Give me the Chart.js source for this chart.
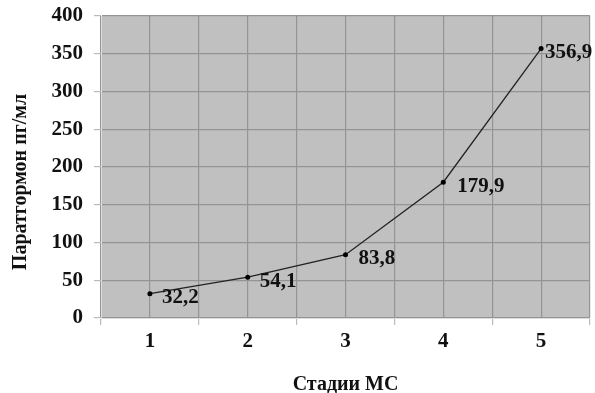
<!DOCTYPE html>
<html>
<head>
<meta charset="utf-8">
<script src="https://cdn.jsdelivr.net/npm/chart.js@4/dist/chart.umd.min.js"></script>
<style>
  html, body { margin: 0; padding: 0; background: #fff; }
  #wrap { width: 595px; height: 393px; }
</style>
</head>
<body>
<div id="wrap"><canvas id="chart" width="595" height="393"></canvas></div>
<script>
// Stages of MS and parathormone level
const stages = [1, 2, 3, 4, 5];
const values = [32.2, 54.1, 83.8, 179.9, 356.9];
const yTicks = [0, 50, 100, 150, 200, 250, 300, 350, 400];
const yTitle = 'Паратгормон пг/мл';
const xTitle = 'Стадии МС';

// label offset to the right of each point (px)
const labelDx = [12, 12, 13, 14, 4];

const serif = "'Liberation Serif', 'Times New Roman', serif";

// plot area background
const plotBg = {
    id: 'plotBg',
    beforeDraw(chart) {
        const { ctx, chartArea: a } = chart;
        ctx.save();
        ctx.fillStyle = '#c0c0c0';
        ctx.fillRect(a.left, a.top, a.right - a.left, a.bottom - a.top);
        ctx.restore();
    }
};

// value labels (comma decimal) + y title slightly below centre like the source
const valueLabels = {
    id: 'valueLabels',
    afterDatasetsDraw(chart) {
        const { ctx, chartArea: a } = chart;
        const meta = chart.getDatasetMeta(0);
        ctx.save();
        ctx.font = 'bold 21px ' + serif;
        ctx.fillStyle = '#111';
        ctx.textAlign = 'left';
        ctx.textBaseline = 'middle';
        meta.data.forEach((pt, i) => {
            const txt = values[i].toFixed(1).replace('.', ',');
            ctx.fillText(txt, pt.x + labelDx[i], pt.y + 4);
        });

        ctx.translate(21, (a.top + a.bottom) / 2 + 15);
        ctx.rotate(-Math.PI / 2);
        ctx.textAlign = 'center';
        ctx.font = 'bold 20px ' + serif;
        ctx.fillText(yTitle, 0, 0);
        ctx.restore();
    }
};

new Chart(document.getElementById('chart'), {
    type: 'line',
    data: {
        datasets: [{
            data: stages.map((s, i) => ({ x: s, y: values[i] })),
            borderColor: '#222',
            borderWidth: 1.3,
            pointRadius: 2.5,
            pointBackgroundColor: '#000',
            pointBorderColor: '#000',
            pointBorderWidth: 0,
            tension: 0,
            fill: false
        }]
    },
    options: {
        responsive: false,
        animation: false,
        devicePixelRatio: 1,
        layout: { padding: { top: 16, right: 5, left: 0, bottom: 0 } },
        plugins: {
            legend: { display: false },
            tooltip: { enabled: false }
        },
        scales: {
            x: {
                type: 'linear',
                min: 0.5,
                max: 5.5,
                afterBuildTicks(scale) {
                    const t = [];
                    for (let v = 0.5; v <= 5.5; v += 0.5) t.push({ value: v });
                    scale.ticks = t;
                },
                afterFit(scale) {
                    scale.height = 75;
                    scale.paddingLeft = 0;
                    scale.paddingRight = 0;
                },
                grid: {
                    color: '#949494',
                    lineWidth: 1.2,
                    tickLength: 7,
                    tickColor: ctx => (ctx.tick && Number.isInteger(ctx.tick.value)) ? 'rgba(0,0,0,0)' : '#bbb'
                },
                border: { display: true, color: '#ddd', width: 1 },
                ticks: {
                    autoSkip: false,
                    maxRotation: 0,
                    padding: 4,
                    color: '#111',
                    font: { family: serif, size: 21, weight: 'bold' },
                    callback: v => Number.isInteger(v) ? String(stages[v - 1]) : ''
                },
                title: {
                    display: true,
                    text: xTitle,
                    color: '#111',
                    font: { family: serif, size: 20, weight: 'bold', lineHeight: 1.0 },
                    padding: { top: 4, bottom: -2 }
                }
            },
            y: {
                min: 0,
                max: 400,
                afterBuildTicks(scale) {
                    scale.ticks = yTicks.map(v => ({ value: v }));
                },
                afterFit(scale) {
                    scale.width = 101;
                    scale.paddingTop = 0;
                    scale.paddingBottom = 0;
                },
                grid: {
                    color: '#949494',
                    lineWidth: 1.2,
                    tickLength: 7,
                    tickColor: '#bbb'
                },
                border: { display: true, color: '#ddd', width: 1 },
                ticks: {
                    padding: 11,
                    color: '#111',
                    font: { family: serif, size: 21, weight: 'bold' }
                },
                title: { display: false }
            }
        }
    },
    plugins: [plotBg, valueLabels]
});
</script>
</body>
</html>
